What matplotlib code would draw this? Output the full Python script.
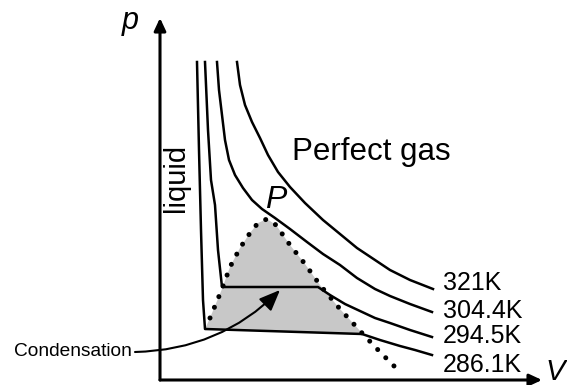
import numpy as np
import matplotlib.pyplot as plt
from matplotlib.patches import FancyArrowPatch

plt.rcParams['font.family'] = ['Liberation Sans', 'DejaVu Sans']

# isotherms (V, p in arbitrary units)
V_321 = [77, 80, 85, 92, 100, 108, 118, 130, 145, 163, 180, 197, 215, 230, 250, 273]
p_321 = [318, 295, 275, 258, 242, 225, 208, 193, 177, 160, 146, 132, 120, 110, 100, 91]

V_304 = [57, 59, 62, 65, 69, 75, 83, 92, 102, 115, 130, 147, 163, 180, 197, 215, 230, 250, 272]
p_304 = [318, 290, 265, 240, 220, 205, 192, 180, 171, 162, 151, 138, 126, 115, 102, 91, 84, 76, 68]

V_294 = [45, 48, 51, 55, 58, 62, 158, 170, 185, 200, 215, 230, 250, 272]
p_294 = [318, 250, 200, 175, 130, 93, 93, 85, 76, 69, 62, 57, 50, 43]

V_286 = [37, 39, 41, 43, 45, 202, 220, 240, 255, 272]
p_286 = [318, 230, 150, 80, 51, 46, 40, 34, 30, 25]

# two-phase dome (dotted)
V_dome = [50, 62, 70, 80, 90, 98, 107, 116, 130, 145, 160, 180, 202, 220, 240]
p_dome = [62, 91, 113, 132, 147, 157, 161, 155, 135, 116, 95, 71, 47, 28, 8]

temps = ['321K', '304.4K', '294.5K', '286.1K']
label_p = [90, 62, 37, 8]

fig = plt.figure(figsize=(5.67, 3.85), dpi=100)
ax = fig.add_axes([0, 0, 1, 1])
ax.set_xlim(-160, 407)
ax.set_ylim(-5, 380)
ax.axis('off')

# shaded region under the dome
sh_V = [45] + V_dome[:13] + [202]
sh_p = [51] + p_dome[:13] + [46]
ax.fill(sh_V, sh_p, color='#c8c8c8', lw=0, zorder=1)

lw = 1.8
for V, p in [(V_321, p_321), (V_304, p_304), (V_294, p_294), (V_286, p_286)]:
    ax.plot(V, p, color='black', lw=lw, solid_joinstyle='round', zorder=3)

ax.plot(V_dome, p_dome, color='black', lw=3.6, linestyle=(0, (0.01, 2.3)),
        dash_capstyle='round', zorder=4)

# axes with arrows
for start, end in [((0, 0), (0, 362)), ((0, 0), (382, 0))]:
    ax.add_patch(FancyArrowPatch(start, end, arrowstyle='-|>,head_length=0.75,head_width=0.35',
                                 mutation_scale=10, color='black', lw=2.2,
                                 shrinkA=0, shrinkB=0, zorder=5))

# condensation arrow
ax.add_patch(FancyArrowPatch((-25, 28), (120, 90), connectionstyle='arc3,rad=0.2',
                             arrowstyle='-|>,head_length=0.85,head_width=0.35',
                             mutation_scale=15, color='black', lw=1.5,
                             shrinkA=0, shrinkB=0, zorder=6))

for t, pp in zip(temps, label_p):
    ax.text(283, pp, t, fontsize=18, ha='left', va='baseline')

ax.text(132, 220, 'Perfect gas', fontsize=22.5, ha='left', va='baseline')
ax.text(105, 172, 'P', fontsize=23, style='italic', ha='left', va='baseline')
ax.text(16, 202, 'liquid', fontsize=21, rotation=90, ha='center', va='center')
ax.text(-38, 351, 'p', fontsize=22, style='italic', ha='left', va='baseline')
ax.text(385, 0, 'V', fontsize=21, style='italic', ha='left', va='baseline')
ax.text(-28, 28, 'Condensation', fontsize=13.8, ha='right', va='center')

fig.savefig('out.png', dpi=100, facecolor='white')
